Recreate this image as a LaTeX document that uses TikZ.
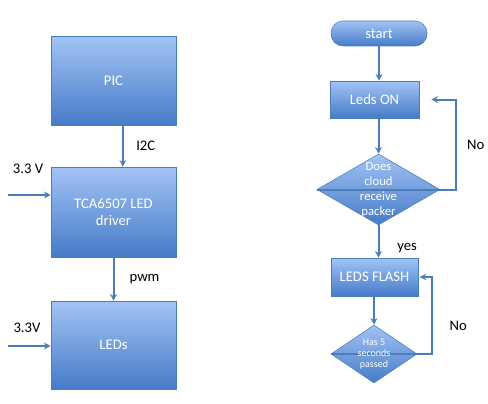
\documentclass[tikz,border=0pt]{standalone}
\usepackage{fontspec}
\setmainfont{Carlito}
\usetikzlibrary{shapes.geometric,arrows.meta}
\definecolor{boxtop}{HTML}{A2C3F4}
\definecolor{boxbot}{HTML}{467BC8}
\definecolor{boxline}{HTML}{4A7EBB}
\tikzset{
  blockbox/.style={draw=boxline,top color=boxtop,bottom color=boxbot,text=white,align=center,inner sep=0pt,font=\fontsize{11}{13}\selectfont},
  decision/.style={diamond,draw=boxline,top color=boxtop,bottom color=boxbot,inner sep=0pt,aspect=1.7},
  decisiontext/.style={text=white,align=center,inner sep=0pt},
  flow/.style={draw=boxline,line width=1.5pt,-{Stealth[length=5pt,width=5pt]}},
  note/.style={font=\fontsize{11}{13}\selectfont}
}
\begin{document}
\begin{tikzpicture}[x=0.75pt,y=-0.75pt]
        \useasboundingbox (0,0) rectangle (488,403);
        \node[blockbox,minimum width=93.75pt,minimum height=66.75pt] (pic) at (113.5,81) {PIC};
        \node[blockbox,minimum width=93.75pt,minimum height=67.5pt] (tca) at (113.5,212) {TCA6507 LED\\driver};
        \node[blockbox,minimum width=93.75pt,minimum height=66pt] (leds) at (113.5,345) {LEDs};
        \coordinate (in1) at (8,195);
        \coordinate (in2) at (8,346);
        \draw[flow] ([xshift=7pt]pic.south) -- ([xshift=7pt]tca.north) node[note,pos=0.5,anchor=west,xshift=6pt] (i2c) {I2C};
        \draw[flow] (tca.south) -- (leds.north) node[note,pos=0.5,anchor=west,xshift=8pt] (pwm) {pwm};
        \draw[flow] (in1) -- (in1 -| tca.west);
        \draw[flow] (in2) -- (in2 -| leds.west);
        \node[note] (v1) at (28,169) {3.3 V};
        \node[note] (v2) at (27,328) {3.3V};
        \node[blockbox,rounded corners=9pt,minimum width=72pt,minimum height=18.75pt] (start) at (379,33.5) {start};
        \node[blockbox,minimum width=66.75pt,minimum height=27.75pt] (on) at (374.5,99.5) {Leds ON};
        \node[decision,minimum width=92.25pt,minimum height=53.25pt] (cloud) at (378.5,189.5) {};
        \node[blockbox,minimum width=65.25pt,minimum height=28.5pt] (flash) at (374.5,277) {LEDS FLASH};
        \node[decision,minimum width=64.5pt,minimum height=43.5pt] (wait) at (374,354) {};
        \draw[flow] (start.south) -- (start.south |- on.north);
        \draw[flow] (cloud.north |- on.south) -- (cloud.north);
        \draw[flow] (cloud.west) -- (cloud.east) -- ++(16,0) |- ([xshift=9pt]on.east) node[note,pos=0.25,anchor=west,xshift=4pt] (no1) {No};
        \draw[flow] (cloud.south) -- (cloud.south |- flash.north) node[note,pos=0.69,anchor=west,xshift=10pt] (yes) {yes};
        \draw[flow] (wait.north |- flash.south) -- (wait.north);
        \draw[flow] (wait.west) -- (wait.east) -- ++(15,0) |- ([xshift=1pt]flash.east) node[note,pos=0.18,anchor=west,xshift=9pt] (no2) {No};
        \node[decisiontext,font=\fontsize{9.5}{11.25}\selectfont] (cloudtxt) at (cloud) {Does\\cloud\\receive\\packer};
        \node[decisiontext,font=\fontsize{7.5}{8.25}\selectfont] (waittxt) at (wait) {Has 5\\seconds\\passed};
    \end{tikzpicture}
\end{document}
